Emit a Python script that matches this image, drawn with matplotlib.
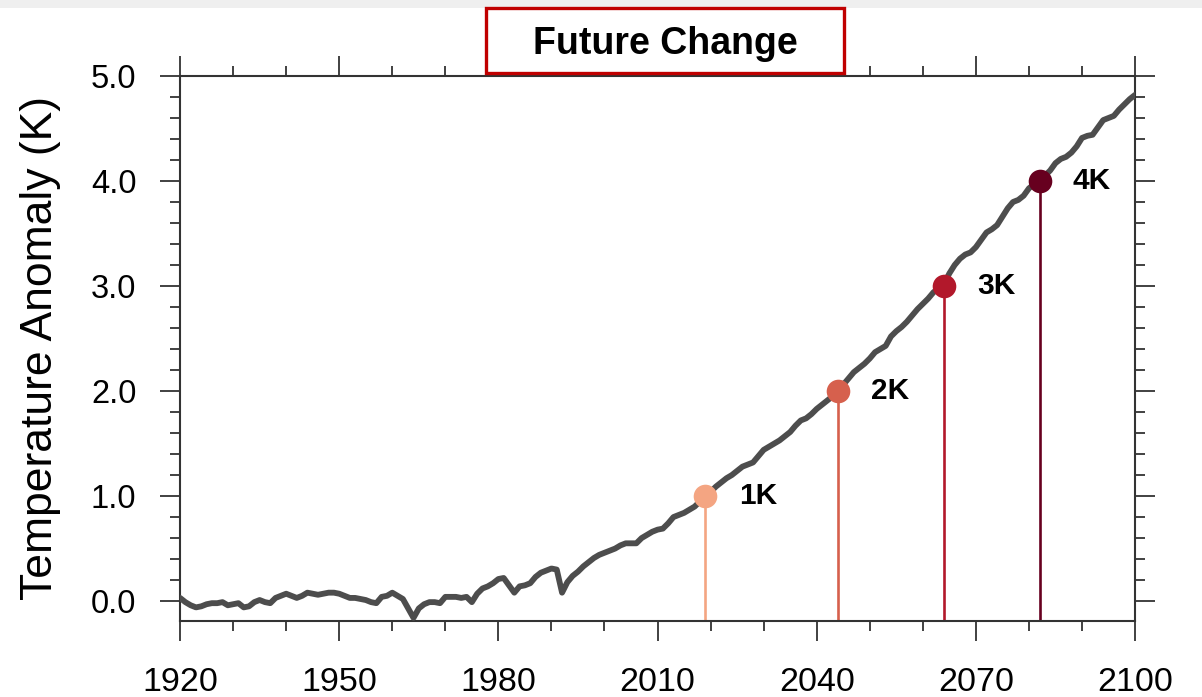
import numpy as np
import matplotlib.pyplot as plt
from matplotlib.patches import Rectangle
from matplotlib.ticker import MultipleLocator

plt.rcParams['font.family'] = ['Liberation Sans', 'DejaVu Sans']

# annual global mean temperature anomaly (K), 1920-2100
years = np.arange(1920, 2101)
anomaly = [
    0.03, -0.01, -0.04, -0.06, -0.05, -0.03, -0.02, -0.02, -0.01, -0.04,
    -0.03, -0.02, -0.06, -0.05, -0.01, 0.01, -0.01, -0.02, 0.03, 0.05,
    0.07, 0.05, 0.03, 0.05, 0.08, 0.07, 0.06, 0.07, 0.08, 0.08,
    0.07, 0.05, 0.03, 0.03, 0.02, 0.01, -0.01, -0.02, 0.04, 0.05,
    0.08, 0.05, 0.02, -0.07, -0.16, -0.07, -0.03, -0.01, -0.01, -0.02,
    0.04, 0.04, 0.04, 0.03, 0.04, -0.01, 0.07, 0.12, 0.14, 0.17,
    0.21, 0.22, 0.15, 0.08, 0.14, 0.15, 0.17, 0.23, 0.27, 0.29,
    0.31, 0.30, 0.08, 0.18, 0.24, 0.28, 0.33, 0.37, 0.41, 0.44,
    0.46, 0.48, 0.50, 0.53, 0.55, 0.55, 0.55, 0.60, 0.63, 0.66,
    0.68, 0.69, 0.74, 0.80, 0.82, 0.84, 0.87, 0.90, 0.95, 1.00,
    1.04, 1.09, 1.13, 1.17, 1.20, 1.24, 1.28, 1.30, 1.32, 1.38,
    1.44, 1.47, 1.50, 1.53, 1.57, 1.61, 1.67, 1.72, 1.74, 1.78,
    1.83, 1.87, 1.91, 1.95, 2.00, 2.06, 2.12, 2.18, 2.22, 2.26,
    2.31, 2.37, 2.40, 2.43, 2.52, 2.57, 2.61, 2.66, 2.72, 2.78,
    2.83, 2.88, 2.94, 2.98, 3.02, 3.12, 3.20, 3.26, 3.30, 3.32,
    3.37, 3.44, 3.51, 3.54, 3.58, 3.66, 3.74, 3.80, 3.82, 3.86,
    3.93, 3.97, 4.00, 4.05, 4.10, 4.17, 4.21, 4.23, 4.27, 4.33,
    4.41, 4.43, 4.44, 4.51, 4.58, 4.60, 4.62, 4.68, 4.73, 4.78,
    4.82,
]

# global warming levels and the year each is first reached
levels = [1, 2, 3, 4]
level_years = [2019, 2044, 2064, 2082]
level_labels = ['1K', '2K', '3K', '4K']
level_colors = ['#f4a582', '#d6604d', '#b2182b', '#67001f']

fig = plt.figure(figsize=(12.02, 6.97), dpi=100)
ax = fig.add_axes([0.1498, 0.109, 0.7945, 0.782])

ymin, ymax = -0.19, 5.0
ax.plot(years, anomaly, color='#4d4d4d', lw=4.2, solid_capstyle='round',
        solid_joinstyle='round', zorder=3)

for lev, yr, lab, col in zip(levels, level_years, level_labels, level_colors):
    ax.plot([yr, yr], [ymin, lev], color=col, lw=1.9, zorder=2)
    ax.plot(yr, lev, 'o', color=col, ms=17, mec='none', zorder=4)
    ax.annotate(lab, (yr, lev), xytext=(24, 0), textcoords='offset points',
                ha='left', va='center', fontsize=21.5, fontweight='bold')

ax.set_xlim(1920, 2100)
ax.set_ylim(ymin, ymax)
ax.xaxis.set_major_locator(MultipleLocator(30))
ax.xaxis.set_minor_locator(MultipleLocator(10))
ax.yaxis.set_major_locator(MultipleLocator(1.0))
ax.yaxis.set_minor_locator(MultipleLocator(0.2))
ax.set_yticklabels([f'{v:.1f}' for v in ax.get_yticks()])
ax.set_ylim(ymin, ymax)

ax.tick_params(which='both', direction='out', top=True, right=True,
               width=1.3, color='#333333')
ax.tick_params(axis='x', labelsize=24.5)
ax.tick_params(axis='y', labelsize=23.5)
ax.tick_params(which='major', length=14.4)
ax.tick_params(which='minor', length=7.2)
ax.tick_params(axis='x', which='major', pad=19)
ax.tick_params(axis='y', which='major', pad=17)
for s in ax.spines.values():
    s.set_linewidth(1.5)
    s.set_color('#333333')

ax.set_ylabel('Temperature Anomaly (K)', fontsize=32)
ax.yaxis.set_label_coords(-0.125, 0.5)

# light strip along the top edge
fig.patches.append(Rectangle((0, 1 - 8 / 697), 1, 8 / 697, transform=fig.transFigure,
                             facecolor='#efefef', edgecolor='none', zorder=0))

# title box
bx0, by0 = 486 / 1202, 1 - 73 / 697
bw, bh = 358 / 1202, 65 / 697
fig.patches.append(Rectangle((bx0, by0), bw, bh, transform=fig.transFigure,
                             facecolor='white', edgecolor='#c00000', lw=2.4, zorder=10))
fig.text(bx0 + bw / 2, by0 + bh / 2 - 3 / 697, 'Future Change', ha='center', va='center',
         fontsize=27, fontweight='bold', zorder=11)

fig.savefig('out.png', dpi=100)
